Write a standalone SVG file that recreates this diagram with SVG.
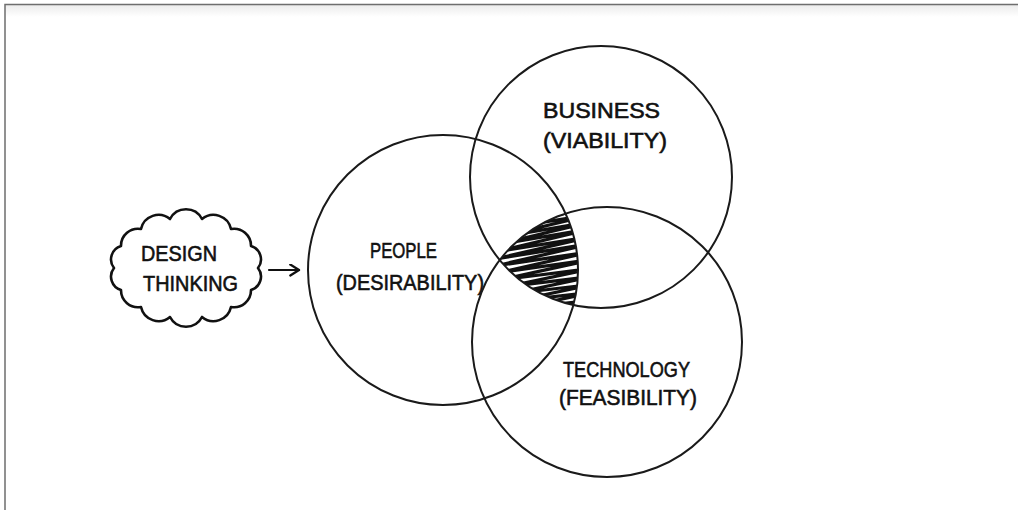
<svg xmlns="http://www.w3.org/2000/svg" width="1018" height="510" viewBox="0 0 1018 510">
  <defs>
    <style>
      .ring { fill: none; stroke: #1a1a1a; stroke-width: 2; }
      .ink { fill: none; stroke: #111; stroke-linecap: round; stroke-linejoin: round; }
      .hand { font-family: "Liberation Sans Narrow", "Liberation Sans", "DejaVu Sans Condensed", sans-serif; font-size: 22px; fill: #111; stroke: #111; stroke-width: 0.6; }
    </style>
    <linearGradient id="topShade" x1="0" y1="0" x2="0" y2="1">
      <stop offset="0" stop-color="#ececec"/>
      <stop offset="1" stop-color="#ffffff"/>
    </linearGradient>
    <marker id="chevron" viewBox="0 0 12 12" refX="10" refY="6" markerWidth="13" markerHeight="13" markerUnits="userSpaceOnUse" orient="auto">
      <path d="M2 1 L10 6 L2 11" fill="none" stroke="#111" stroke-width="2.2" stroke-linecap="round" stroke-linejoin="round"/>
    </marker>
    <clipPath id="clipPeople"><circle cx="443" cy="270" r="135"/></clipPath>
    <clipPath id="clipBusiness"><circle cx="601" cy="177" r="131"/></clipPath>
    <clipPath id="clipTech"><circle cx="607" cy="342" r="135"/></clipPath>
  </defs>

  <!-- page frame -->
  <rect x="0" y="0" width="1018" height="510" fill="#ffffff"/>
  <rect x="5" y="5" width="1013" height="12" fill="url(#topShade)"/>
  <path d="M5 510 V4.5 H1018" fill="none" stroke="#6e6e6e" stroke-width="1.5"/>

  <!-- overlap of all three sets, scribbled in -->
  <g id="overlap" clip-path="url(#clipPeople)">
    <g clip-path="url(#clipBusiness)">
      <g clip-path="url(#clipTech)">
        <path class="ink" stroke-width="3.2" d="M495 222 L595 206 L495 230 L595 214 L495 238 L595 221 L495 245 L595 228 L495 252 L595 236 L495 259 L595 243 L495 266 L595 251 L497 273 L595 259 L500 280 L595 268 L505 287 L595 276 L510 294 L595 284 L515 301 L595 292 L520 308 L595 300"/>
      </g>
    </g>
  </g>

  <!-- set circles -->
  <g id="people">
    <circle class="ring" cx="443" cy="270" r="135"/>
    <text class="hand" x="370" y="258" textLength="67" lengthAdjust="spacingAndGlyphs">PEOPLE</text>
    <text class="hand" x="336" y="290" textLength="148" lengthAdjust="spacingAndGlyphs">(DESIRABILITY)</text>
  </g>
  <g id="business">
    <circle class="ring" cx="601" cy="177" r="131"/>
    <text class="hand" x="543" y="118" textLength="117" lengthAdjust="spacingAndGlyphs">BUSINESS</text>
    <text class="hand" x="543" y="148" textLength="124" lengthAdjust="spacingAndGlyphs">(VIABILITY)</text>
  </g>
  <g id="technology">
    <circle class="ring" cx="607" cy="342" r="135"/>
    <text class="hand" x="563" y="377" textLength="127" lengthAdjust="spacingAndGlyphs">TECHNOLOGY</text>
    <text class="hand" x="559" y="405" textLength="138" lengthAdjust="spacingAndGlyphs">(FEASIBILITY)</text>
  </g>

  <!-- design thinking cloud -->
  <g id="design-thinking">
    <path class="ink" stroke-width="2.6" d="M258 268 A14 14 0 0 1 251 290 A17 17 0 0 1 231 307 A18 18 0 0 1 202 317 A18 18 0 0 1 170 317 A18 18 0 0 1 141 307 A17 17 0 0 1 121 290 A14 14 0 0 1 114 268 A14 14 0 0 1 121 246 A17 17 0 0 1 141 229 A18 18 0 0 1 170 219 A18 18 0 0 1 202 219 A18 18 0 0 1 231 229 A17 17 0 0 1 251 246 A14 14 0 0 1 258 268 Z"/>
    <text class="hand" x="141" y="261" textLength="76" lengthAdjust="spacingAndGlyphs">DESIGN</text>
    <text class="hand" x="143" y="291" textLength="95" lengthAdjust="spacingAndGlyphs">THINKING</text>
  </g>

  <!-- connectors -->
  <g id="connectors">
    <line class="ink" x1="269" y1="270" x2="299" y2="270" stroke-width="2.2" marker-end="url(#chevron)"/>
  </g>
</svg>
